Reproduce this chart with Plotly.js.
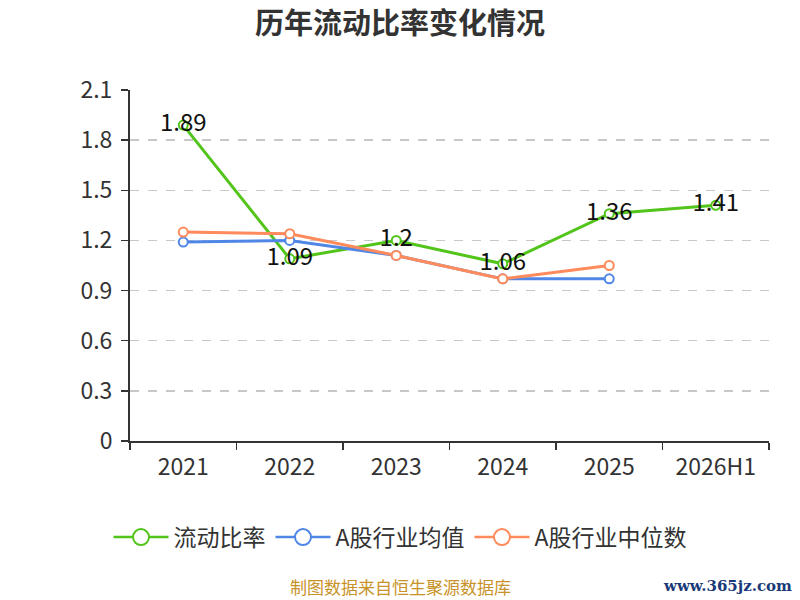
<!DOCTYPE html>
<html>
<head>
<meta charset="utf-8">
<script src="https://cdn.plot.ly/plotly-3.0.1.min.js"></script>
<style>
  html, body { margin: 0; padding: 0; background: #fff; }
  #chart { width: 800px; height: 600px; }
</style>
</head>
<body>
<div id="chart"></div>
<script>
// categories and series
var years = ['2021', '2022', '2023', '2024', '2025', '2026H1'];
var ratio = [1.89, 1.09, 1.2, 1.06, 1.36, 1.41];
var ratioText = ['1.89', '1.09', '1.2', '1.06', '1.36', '1.41'];
var industryAvg = [1.19, 1.20, 1.11, 0.97, 0.97];
var industryMedian = [1.25, 1.24, 1.11, 0.97, 1.05];

var names = ['流动比率', 'A股行业均值', 'A股行业中位数'];
var colors = ['#52c41a', '#5087e6', '#ff8a5b'];

var font = '"Noto Sans CJK SC", "Noto Sans", sans-serif';

function series(i, y, extra) {
  var t = {
    x: years.slice(0, y.length),
    y: y,
    name: names[i],
    type: 'scatter',
    mode: 'lines+markers',
    showlegend: false,
    line: {color: colors[i], width: 3},
    marker: {size: 9, color: '#fff', line: {color: colors[i], width: 2}}
  };
  return Object.assign(t, extra || {});
}

// legend-only entries so the legend circles can be drawn bigger
function legendEntry(i) {
  return {
    x: [null], y: [null],
    name: names[i],
    type: 'scatter',
    mode: 'lines+markers',
    line: {color: colors[i], width: 2.5},
    marker: {size: 18, color: '#fff', line: {color: colors[i], width: 2}}
  };
}

var trace1 = series(0, ratio, {
  mode: 'lines+markers+text',
  text: ratioText,
  textposition: 'middle center',
  textfont: {size: 24, color: '#111', family: font},
  cliponaxis: false
});
var trace2 = series(1, industryAvg);
var trace3 = series(2, industryMedian);

var layout = {
  width: 800,
  height: 600,
  margin: {l: 130, r: 31, t: 90, b: 159},
  paper_bgcolor: '#fff',
  plot_bgcolor: '#fff',
  font: {family: font, color: '#333'},
  title: {
    text: '<b>历年流动比率变化情况</b>',
    font: {size: 29, color: '#333', family: font},
    x: 0.5, xanchor: 'center', y: 0.961, yanchor: 'middle'
  },
  xaxis: {
    type: 'category',
    range: [-0.5, 5.5],
    tickson: 'boundaries',
    ticks: 'outside',
    ticklen: 7,
    tickcolor: '#333',
    tickwidth: 1.5,
    ticklabelstandoff: 4,
    showline: true,
    linecolor: '#333',
    linewidth: 2,
    showgrid: false,
    tickfont: {size: 23, color: '#333'},
    fixedrange: true
  },
  yaxis: {
    range: [0, 2.1],
    tickvals: [0, 0.3, 0.6, 0.9, 1.2, 1.5, 1.8, 2.1],
    ticktext: ['0', '0.3', '0.6', '0.9', '1.2', '1.5', '1.8', '2.1'],
    ticks: 'outside',
    ticklen: 7,
    tickcolor: '#333',
    tickwidth: 1.5,
    ticklabelstandoff: 4,
    showline: true,
    linecolor: '#333',
    linewidth: 2,
    gridcolor: '#c8c8c8',
    griddash: 'dash',
    gridwidth: 1.5,
    zeroline: false,
    tickfont: {size: 23, color: '#333'},
    fixedrange: true
  },
  legend: {
    orientation: 'h',
    x: (400 - 130) / 639, xanchor: 'center',
    y: -0.274, yanchor: 'middle',
    font: {size: 23, color: '#333', family: font},
    itemwidth: 55
  },
  annotations: [
    {
      text: '制图数据来自恒生聚源数据库',
      xref: 'paper', yref: 'paper',
      x: (400 - 130) / 639, y: -145 / 350,
      xanchor: 'center', yanchor: 'middle',
      showarrow: false,
      font: {size: 17, color: '#c8922a', family: font}
    },
    {
      text: '<b>www.365jz.com</b>',
      xref: 'paper', yref: 'paper',
      x: (794 - 130) / 639, y: -145 / 350,
      xanchor: 'right', yanchor: 'middle',
      showarrow: false,
      font: {size: 15, color: '#1a3a7a', family: '"DejaVu Serif", "Liberation Serif", serif'}
    }
  ],
  showlegend: true
};

var traces = [trace1, trace2, trace3, legendEntry(0), legendEntry(1), legendEntry(2)];
Plotly.newPlot('chart', traces, layout, {displayModeBar: false, staticPlot: true});
</script>
</body>
</html>
